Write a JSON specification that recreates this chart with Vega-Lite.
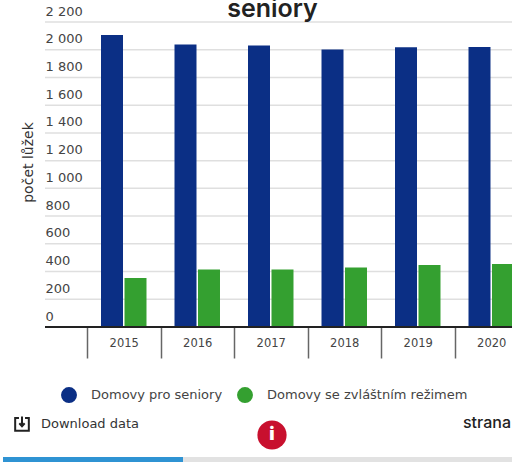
{
"$schema":"https://vega.github.io/schema/vega-lite/v6.json",
"width":467,"height":305,
"autosize":{"type":"none"},
"padding":{"left":45,"top":22,"right":0,"bottom":136},
"background":"white",
"view":{"stroke":null},
"title":{"text":"seniory","font":"Inter","fontSize":25,"fontWeight":600,"color":"#222222","anchor":"middle","dx":-6,"offset":-37,"baseline":"alphabetic"},
"config":{"font":"DejaVu Sans"},
"resolve":{"scale":{"x":"independent","y":"independent","color":"independent"},"axis":{"x":"independent","y":"independent"}},
"layer":[
{"data":{"values":[{"t":0},{"t":200},{"t":400},{"t":600},{"t":800},{"t":1000},{"t":1200},{"t":1400},{"t":1600},{"t":1800},{"t":2000},{"t":2200}]},
 "mark":{"type":"rule","color":"#dfdfdf","strokeWidth":1.5},
 "encoding":{"y":{"field":"t","type":"quantitative","scale":{"domain":[0,2200],"nice":false},"axis":null}}},
{"data":{"values":[
{"rok":"2015","typ":"Domovy pro seniory","luzka":2106},{"rok":"2015","typ":"Domovy se zvláštním režimem","luzka":353},
{"rok":"2016","typ":"Domovy pro seniory","luzka":2038},{"rok":"2016","typ":"Domovy se zvláštním režimem","luzka":415},
{"rok":"2017","typ":"Domovy pro seniory","luzka":2030},{"rok":"2017","typ":"Domovy se zvláštním režimem","luzka":415},
{"rok":"2018","typ":"Domovy pro seniory","luzka":2002},{"rok":"2018","typ":"Domovy se zvláštním režimem","luzka":430},
{"rok":"2019","typ":"Domovy pro seniory","luzka":2018},{"rok":"2019","typ":"Domovy se zvláštním režimem","luzka":447},
{"rok":"2020","typ":"Domovy pro seniory","luzka":2020},{"rok":"2020","typ":"Domovy se zvláštním režimem","luzka":455}]},
 "mark":{"type":"bar"},
 "encoding":{
  "x":{"field":"rok","type":"nominal","scale":{"range":[42,483],"paddingInner":0,"paddingOuter":0},
   "axis":{"title":null,"domain":false,"grid":false,"labelAngle":0,"tickBand":"extent","tickSize":31,"tickWidth":1.5,"tickColor":"#666666","labelPadding":-15,"labelBaseline":"middle","labelFontSize":11.5,"labelColor":"#444444","labelFont":"DejaVu Sans"}},
  "xOffset":{"field":"typ","type":"nominal","scale":{"domain":["Domovy pro seniory","Domovy se zvláštním režimem"],"paddingInner":0.064,"paddingOuter":0.596}},
  "y":{"field":"luzka","type":"quantitative","scale":{"domain":[0,2200],"nice":false},
   "axis":{"title":"počet lůžek","titleFont":"DejaVu Sans","titleFontSize":14,"titleFontWeight":400,"titleColor":"#333333","titleX":-10,"titleY":140,"values":[0,200,400,600,800,1000,1200,1400,1600,1800,2000,2200],"grid":false,"domain":false,"ticks":false,"labelAlign":"left","labelPadding":0,"labelOffset":-11,"labelBaseline":"middle","labelFontSize":13,"labelColor":"#444444","labelFont":"DejaVu Sans","labelExpr":"replace(format(datum.value,','),',',' ')"}},
  "color":{"field":"typ","type":"nominal","scale":{"domain":["Domovy pro seniory","Domovy se zvláštním režimem"],"range":["#0b2f85","#34a030"]},
   "legend":{"title":null,"orient":"none","legendX":16,"legendY":365,"direction":"horizontal","columns":2,"symbolType":"circle","symbolSize":254,"symbolStrokeWidth":0,"labelFontSize":13,"labelLimit":300,"labelColor":"#444444","labelFont":"DejaVu Sans","labelOffset":14,"columnPadding":14,"padding":0}}
 }},
{"data":{"values":[{"o":"osa"}]},
 "mark":{"type":"rule","color":"#222222","strokeWidth":2},
 "encoding":{"y":{"datum":0,"scale":{"domain":[0,2200],"nice":false},"axis":null}}},
{"data":{"values":[{"item":"Download data"}]},
 "mark":{"type":"text","align":"left","baseline":"middle","font":"DejaVu Sans","fontSize":13,"color":"#333333"},
 "encoding":{
  "x":{"field":"item","type":"nominal","scale":{"type":"point","domain":["Download data"],"range":[-4,-4],"padding":0},"axis":null},
  "y":{"field":"item","type":"nominal","scale":{"type":"point","domain":["Download data"],"range":[402,402],"padding":0},"axis":null},
  "text":{"field":"item"}}},
{"data":{"values":[{"item":"strana"}]},
 "mark":{"type":"text","align":"left","baseline":"middle","font":"Inter","fontWeight":500,"fontSize":16,"color":"#222222"},
 "encoding":{
  "x":{"field":"item","type":"nominal","scale":{"type":"point","domain":["strana"],"range":[418,418],"padding":0},"axis":null},
  "y":{"field":"item","type":"nominal","scale":{"type":"point","domain":["strana"],"range":[401,401],"padding":0},"axis":null},
  "text":{"field":"item"}}},
{"data":{"values":[{"item":"info"}]},
 "mark":{"type":"point","filled":true,"shape":"circle","size":855,"color":"#c8102e","opacity":1},
 "encoding":{
  "x":{"field":"item","type":"nominal","scale":{"type":"point","domain":["info"],"range":[227,227],"padding":0},"axis":null},
  "y":{"field":"item","type":"nominal","scale":{"type":"point","domain":["info"],"range":[413,413],"padding":0},"axis":null}}},
{"data":{"values":[{"item":"i"}]},
 "mark":{"type":"text","font":"Inter","fontWeight":900,"fontSize":18,"color":"white","align":"center","baseline":"middle"},
 "encoding":{
  "x":{"field":"item","type":"nominal","scale":{"type":"point","domain":["i"],"range":[227,227],"padding":0},"axis":null},
  "y":{"field":"item","type":"nominal","scale":{"type":"point","domain":["i"],"range":[413,413],"padding":0},"axis":null},
  "text":{"field":"item"}}},
{"data":{"values":[{"item":"download"}]},
 "mark":{"type":"point","filled":false,"shape":"M-0.4,-0.8 L-0.9,-0.8 L-0.9,0.9 L0.9,0.9 L0.9,-0.8 L0.4,-0.8 M0,-1 L0,0.3 M-0.35,-0.1 L0,0.3 L0.35,-0.1","size":230,"color":"#222222","strokeWidth":2,"opacity":1},
 "encoding":{
  "x":{"field":"item","type":"nominal","scale":{"type":"point","domain":["download"],"range":[-23,-23],"padding":0},"axis":null},
  "y":{"field":"item","type":"nominal","scale":{"type":"point","domain":["download"],"range":[402,402],"padding":0},"axis":null}}},
{"data":{"values":[{"part":"přečteno","od":0,"do":35.4},{"part":"zbývá","od":35.4,"do":100}]},
 "mark":{"type":"bar"},
 "encoding":{
  "x":{"field":"od","type":"quantitative","scale":{"domain":[0,100],"range":[-42,467],"nice":false,"zero":false},"axis":null},
  "x2":{"field":"do"},
  "y":{"datum":"pruh","type":"nominal","scale":{"type":"band","domain":["pruh"],"range":[435,440],"paddingInner":0,"paddingOuter":0},"axis":null},
  "color":{"field":"part","type":"nominal","scale":{"domain":["přečteno","zbývá"],"range":["#2f93d3","#e2e2e2"]},"legend":null}}}
]
}
